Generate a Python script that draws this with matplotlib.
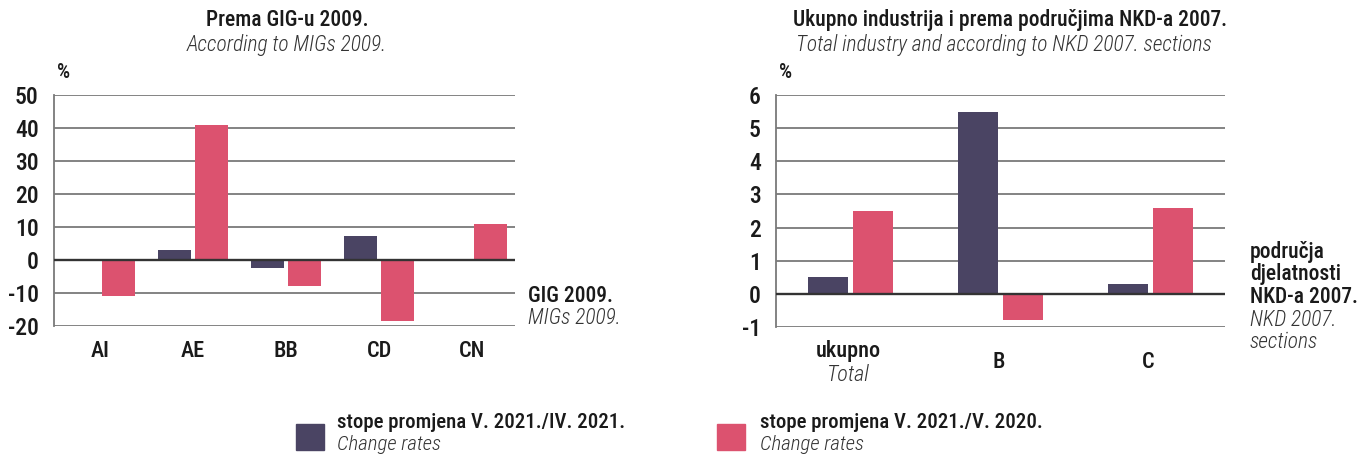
import numpy as np
import matplotlib
matplotlib.use('Agg')
import matplotlib.pyplot as plt
from matplotlib.patches import Rectangle

plt.rcParams['font.family'] = ['Roboto Condensed', 'DejaVu Sans']
plt.rcParams['font.weight'] = 500
plt.rcParams['axes.unicode_minus'] = False

# data
gig_cats = ['AI', 'AE', 'BB', 'CD', 'CN']
gig_mom = [0.0, 3.0, -2.3, 7.2, 0.0]      # V. 2021./IV. 2021.
gig_yoy = [-11.0, 41.0, -8.0, -18.5, 11.0]  # V. 2021./V. 2020.

nkd_cats = ['ukupno', 'B', 'C']
nkd_cats_en = ['Total', '', '']
nkd_mom = [0.5, 5.5, 0.3]
nkd_yoy = [2.5, -0.8, 2.6]

dark = '#4a4463'
pink = '#dc526f'
grid_c = '#7a7a7a'
txt_c = '#1a1a1a'
it_c = '#333333'

fig = plt.figure(figsize=(13.62, 4.54), dpi=100)

ax1 = fig.add_axes([54/1362, 1-326/454, 461/1362, 231/454])
ax2 = fig.add_axes([776/1362, 1-327/454, 449/1362, 232/454])


def style(ax, ticks):
    ax.set_ylim(ticks[0], ticks[-1])
    ax.set_yticks(ticks)
    for t in ticks:
        if t == 0:
            continue
        ax.axhline(t, color=grid_c, lw=1.3, zorder=0)
    ax.axhline(0, color='#333333', lw=1.7, zorder=3)
    for s in ['top', 'right', 'bottom']:
        ax.spines[s].set_visible(False)
    ax.spines['left'].set_color(grid_c)
    ax.spines['left'].set_linewidth(1.3)
    ax.tick_params(axis='y', length=0, pad=11, labelsize=17, labelcolor=txt_c)
    ax.tick_params(axis='x', length=0)
    ax.set_xticks([])


# left chart
x1 = np.arange(len(gig_cats))
ax1.bar(x1 - 0.2, gig_mom, 0.355, color=dark, zorder=2)
ax1.bar(x1 + 0.2, gig_yoy, 0.355, color=pink, zorder=2)
ax1.set_xlim(-0.495, 4.46)
style(ax1, [-20, -10, 0, 10, 20, 30, 40, 50])
for i, c in enumerate(gig_cats):
    ax1.text(x1[i], -27.5, c, ha='center', va='center', fontsize=16, color=txt_c)

# right chart
x2 = np.arange(len(nkd_cats))
ax2.bar(x2 - 0.135, nkd_mom, 0.27, color=dark, zorder=2)
ax2.bar(x2 + 0.165, nkd_yoy, 0.27, color=pink, zorder=2)
ax2.set_xlim(-0.48, 2.51)
style(ax2, [-1, 0, 1, 2, 3, 4, 5, 6])
for i, c in enumerate(nkd_cats):
    if nkd_cats_en[i]:
        ax2.text(x2[i], -1.72, c, ha='center', va='center', fontsize=16, color=txt_c)
        ax2.text(x2[i], -2.44, nkd_cats_en[i], ha='center', va='center',
                 fontsize=16, style='italic', weight='light', color=it_c)
    else:
        ax2.text(x2[i], -2.05, c, ha='center', va='center', fontsize=16, color=txt_c)


# titles and side labels (figure pixel coords)
def ftext(x, y, s, **kw):
    kw.setdefault('color', txt_c)
    if kw.get('style') == 'italic':
        kw.setdefault('weight', 'light')
    fig.text(x/1362, 1-y/454, s, **kw)


ftext(287, 20, 'Prema GIG-u 2009.', ha='center', va='center', fontsize=15.5)
ftext(287, 45, 'According to MIGs 2009.', ha='center', va='center', fontsize=15.5,
      style='italic', color=it_c)
ftext(57, 72, '%', ha='left', va='center', fontsize=15)
ftext(528, 296, 'GIG 2009.', ha='left', va='center', fontsize=15.5)
ftext(528, 318, 'MIGs 2009.', ha='left', va='center', fontsize=15.5,
      style='italic', color=it_c)

ftext(1010, 20, 'Ukupno industrija i prema područjima NKD-a 2007.', ha='center',
      va='center', fontsize=15.5)
ftext(1004, 45, 'Total industry and according to NKD 2007. sections', ha='center',
      va='center', fontsize=15.5, style='italic', color=it_c)
ftext(779, 72, '%', ha='left', va='center', fontsize=15)
ftext(1250, 252, 'područja', ha='left', va='center', fontsize=15.5)
ftext(1250, 274, 'djelatnosti', ha='left', va='center', fontsize=15.5)
ftext(1250, 297, 'NKD-a 2007.', ha='left', va='center', fontsize=15.5)
ftext(1250, 320, 'NKD 2007.', ha='left', va='center', fontsize=15.5,
      style='italic', color=it_c)
ftext(1250, 342, 'sections', ha='left', va='center', fontsize=15.5,
      style='italic', color=it_c)

# legend
fig.patches.append(Rectangle((296/1362, 1-450/454), 28/1362, 26/454,
                             transform=fig.transFigure, color=dark))
fig.patches.append(Rectangle((717/1362, 1-450/454), 28/1362, 26/454,
                             transform=fig.transFigure, color=pink))
ftext(337, 422, 'stope promjena V. 2021./IV. 2021.', ha='left', va='center', fontsize=15)
ftext(337, 444, 'Change rates', ha='left', va='center', fontsize=15,
      style='italic', color=it_c)
ftext(760, 422, 'stope promjena V. 2021./V. 2020.', ha='left', va='center', fontsize=15)
ftext(760, 444, 'Change rates', ha='left', va='center', fontsize=15,
      style='italic', color=it_c)

fig.savefig('out.png', dpi=100)
